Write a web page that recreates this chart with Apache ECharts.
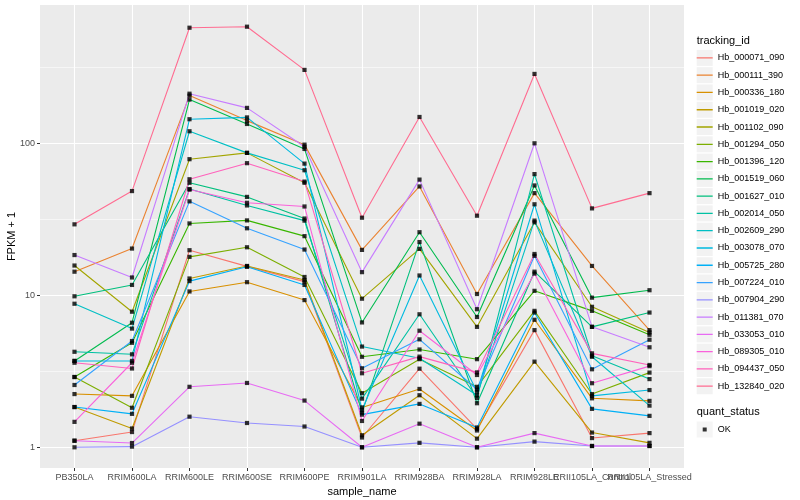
<!DOCTYPE html>
<html><head><meta charset="utf-8">
<script src="https://cdn.jsdelivr.net/npm/echarts@6/dist/echarts.min.js"></script>
<style>html,body{margin:0;padding:0;background:#fff}#c{width:800px;height:500px}</style>
</head><body><div id="c"></div>
<script>
// ---------------- data ----------------
const categories = ['PB350LA','RRIM600LA','RRIM600LE','RRIM600SE','RRIM600PE','RRIM901LA','RRIM928BA','RRIM928LA','RRIM928LE','RRII105LA_Control','RRII105LA_Stressed'];
const trackingIds = ['Hb_000071_090','Hb_000111_390','Hb_000336_180','Hb_001019_020','Hb_001102_090','Hb_001294_050','Hb_001396_120','Hb_001519_060','Hb_001627_010','Hb_002014_050','Hb_002609_290','Hb_003078_070','Hb_005725_280','Hb_007224_010','Hb_007904_290','Hb_011381_070','Hb_033053_010','Hb_089305_010','Hb_094437_050','Hb_132840_020'];
const lineColors = ['#F8766D','#EA8331','#D89000','#C09B00','#A3A500','#7CAE00','#39B600','#00BB4E','#00BF7D','#00C1A3','#00BFC4','#00BAE0','#00B0F6','#35A2FF','#9590FF','#C77CFF','#E76BF3','#FA62DB','#FF62BC','#FF6C91'];

const Hb_000071_090 = [1.105, 1.26, 19.8, 15.5, 12.3, 1.16, 3.29, 1.32, 5.9, 1.15, 1.24];
const Hb_000111_390 = [14.3, 20.3, 206, 141, 98, 19.9, 52, 10.2, 47, 15.6, 5.9];
const Hb_000336_180 = [2.24, 2.18, 10.6, 12.2, 9.3, 1.83, 2.42, 1.29, 6.9, 2.1, 2.02];
const Hb_001019_020 = [1.84, 1.33, 12.9, 15.6, 12.6, 1.2, 2.2, 1.14, 3.66, 1.25, 1.07];
const Hb_001102_090 = [15.7, 7.8, 78.6, 86.5, 55, 9.5, 20.2, 6.2, 30.2, 8.4, 5.7];
const Hb_001294_050 = [2.9, 1.82, 17.9, 20.7, 13.2, 2.27, 3.8, 2.5, 7.9, 2.24, 3.1];
const Hb_001396_120 = [2.9, 4.87, 29.7, 31.1, 24.5, 3.94, 4.4, 3.8, 10.7, 7.9, 5.5];
const Hb_001519_060 = [3.7, 6.6, 194, 134, 91.8, 6.63, 26, 7.2, 52.8, 9.65, 10.8];
const Hb_001627_010 = [9.85, 11.7, 55, 44.4, 32, 1.69, 22.4, 1.95, 14.3, 6.2, 7.7];
const Hb_002014_050 = [4.25, 4.09, 50, 39, 31, 2.09, 7.5, 2.11, 62.7, 4.0, 2.81];
const Hb_002609_290 = [8.8, 6.04, 120, 86.5, 66.5, 4.6, 3.85, 2.2, 31, 3.94, 1.88];
const Hb_003078_070 = [3.7, 3.7, 144, 148, 73.5, 1.76, 13.5, 2.32, 39.7, 2.18, 2.38];
const Hb_005725_280 = [1.84, 1.66, 12.4, 15.4, 11.7, 1.64, 1.93, 1.35, 7.7, 1.79, 1.61];
const Hb_007224_010 = [2.57, 5.0, 41.5, 27.6, 20, 3.31, 5.13, 2.4, 18.2, 3.26, 5.1];
const Hb_007904_290 = [1.0, 1.01, 1.59, 1.445, 1.37, 1.0, 1.07, 1.0, 1.09, 1.02, 1.02];
const Hb_011381_070 = [18.4, 13.1, 212, 171, 95, 14.2, 57.7, 8.1, 100, 6.2, 4.55];
const Hb_033053_010 = [1.105, 1.067, 2.5, 2.65, 2.03, 1.0, 1.43, 1.0, 1.24, 1.02, 1.02];
const Hb_089305_010 = [1.47, 3.6, 49.6, 40.6, 38.4, 1.49, 5.85, 2.99, 13.9, 2.64, 3.42];
const Hb_094437_050 = [3.6, 3.3, 58, 74, 56, 3.07, 3.95, 3.11, 18.7, 4.15, 3.48];
const Hb_132840_020 = [29.3, 48.5, 576, 585, 304, 32.4, 149, 33.4, 286, 37.3, 47];

const seriesValues = [Hb_000071_090, Hb_000111_390, Hb_000336_180, Hb_001019_020, Hb_001102_090, Hb_001294_050, Hb_001396_120, Hb_001519_060, Hb_001627_010, Hb_002014_050, Hb_002609_290, Hb_003078_070, Hb_005725_280, Hb_007224_010, Hb_007904_290, Hb_011381_070, Hb_033053_010, Hb_089305_010, Hb_094437_050, Hb_132840_020];

const yTickLabels = [1, 10, 100];
const yMinorBreaks = [3.1623, 31.623, 316.23];
const quantStatus = 'OK';

// ---------------- layout ----------------
const FONT = '"Liberation Sans", Arial, Helvetica, sans-serif';
const P = { left: 40, right: 684, top: 5, bottom: 468 };
const DECADE = 152;        // px per power of ten
const Y_ONE = 447.3;       // pixel row of value 1
const logMin = (Y_ONE - P.bottom) / DECADE;
const logMax = (Y_ONE - P.top) / DECADE;
const CAT_STEP = (P.right - P.left) / (categories.length - 1 + 1.2);
const catLeft = P.left + 0.6 * CAT_STEP;
const catWidth = CAT_STEP * (categories.length - 1);

const lineIcon = 'path://M0,0h0.01v0.01h-0.01z M0,7.35h16v1.3h-16z M15.99,15.99h0.01v0.01h-0.01z';
const okIcon = 'path://M0,0h0.01v0.01h-0.01z M6,6h4v4h-4z M15.99,15.99h0.01v0.01h-0.01z';

const chart = echarts.init(document.getElementById('c'), null, { renderer: 'canvas' });

const lineSeries = trackingIds.map((id, k) => ({
  name: id, type: 'line', xAxisIndex: 2, yAxisIndex: 2,
  data: seriesValues[k], symbol: 'none', showSymbol: false, silent: true,
  lineStyle: { color: lineColors[k], width: 1.1 }, itemStyle: { color: lineColors[k] }, z: 2
}));

const okPoints = [];
seriesValues.forEach(vals => vals.forEach((v, i) => okPoints.push([categories[i], v])));

const legendBase = {
  orient: 'vertical', left: 696.7, padding: 0, itemWidth: 16, itemHeight: 16, itemGap: 1.28,
  selectedMode: false, textStyle: { fontSize: 9, fontFamily: FONT }
};

const option = {
  animation: false,
  textStyle: { fontFamily: FONT },
  title: [
    { text: 'tracking_id', left: 696.7, top: 35, padding: 0, textStyle: { fontSize: 11, fontWeight: 'normal', color: '#000', fontFamily: FONT } },
    { text: 'quant_status', left: 696.7, top: 406.5, padding: 0, textStyle: { fontSize: 11, fontWeight: 'normal', color: '#000', fontFamily: FONT } }
  ],
  legend: [
    Object.assign({}, legendBase, { top: 49.9, data: trackingIds, icon: 'rect',
      itemStyle: { color: '#F2F2F2', borderWidth: 0 }, textStyle: { fontSize: 9, fontFamily: FONT, color: 'rgba(0,0,0,0)' } }),
    Object.assign({}, legendBase, { top: 49.9, icon: lineIcon,
      data: trackingIds.map((n, k) => ({ name: n, itemStyle: { color: lineColors[k], borderWidth: 0 } })),
      textStyle: { fontSize: 9, fontFamily: FONT, color: '#000' } }),
    Object.assign({}, legendBase, { top: 421.5, data: [quantStatus], icon: 'rect',
      itemStyle: { color: '#F2F2F2', borderWidth: 0 }, textStyle: { fontSize: 9, fontFamily: FONT, color: 'rgba(0,0,0,0)' } }),
    Object.assign({}, legendBase, { top: 421.5, icon: okIcon,
      data: [{ name: quantStatus, itemStyle: { color: '#000', borderWidth: 0 } }],
      textStyle: { fontSize: 9, fontFamily: FONT, color: '#000' } })
  ],
  grid: [
    { left: P.left, top: P.top, width: P.right - P.left, height: P.bottom - P.top, show: true,
      backgroundColor: '#EBEBEB', borderWidth: 0, containLabel: false, outerBoundsMode: 'none' },
    { left: P.left, top: Y_ONE - 3 * DECADE, width: P.right - P.left, height: 3 * DECADE,
      containLabel: false, outerBoundsMode: 'none' },
    { left: catLeft, top: P.top, width: catWidth, height: P.bottom - P.top,
      containLabel: false, outerBoundsMode: 'none' }
  ],
  xAxis: [
    { gridIndex: 0, type: 'value', min: 0, max: 1, show: false },
    { gridIndex: 1, type: 'value', min: 0, max: 1, show: false },
    { gridIndex: 2, type: 'category', data: categories, boundaryGap: false,
      axisLine: { show: false },
      axisTick: { show: true, length: 3, interval: 0, lineStyle: { color: '#333', width: 1 } },
      axisLabel: { interval: 0, hideOverlap: false, margin: 5, fontSize: 9, color: '#4D4D4D', fontFamily: FONT },
      splitLine: { show: true, interval: 0, lineStyle: { color: '#FFFFFF', width: 1.1 } },
      name: 'sample_name', nameLocation: 'middle', nameGap: 16,
      nameTextStyle: { fontSize: 11, color: '#000', fontFamily: FONT } }
  ],
  yAxis: [
    { gridIndex: 0, type: 'value', min: 0, max: 1,
      axisLine: { show: false }, axisTick: { show: false }, axisLabel: { show: false }, splitLine: { show: false },
      name: 'FPKM + 1', nameLocation: 'middle', nameGap: 23,
      nameTextStyle: { fontSize: 11, color: '#000', fontFamily: FONT } },
    { gridIndex: 1, type: 'log', logBase: 10, min: 1, max: 1000,
      axisLine: { show: false },
      axisTick: { show: true, length: 3, lineStyle: { color: '#333', width: 1 } },
      axisLabel: { margin: 5, fontSize: 9, color: '#4D4D4D', fontFamily: FONT,
        formatter: v => { const t = yTickLabels.find(t => Math.abs(t - v) / t < 1e-6); return t === undefined ? '' : String(t); } },
      splitLine: { show: true, lineStyle: { color: '#FFFFFF', width: 1.1 } } },
    { gridIndex: 2, type: 'log', logBase: 10, min: Math.pow(10, logMin), max: Math.pow(10, logMax), show: false }
  ],
  series: [
    { type: 'line', xAxisIndex: 1, yAxisIndex: 1, data: [[0, 1]], symbol: 'none', showSymbol: false,
      lineStyle: { opacity: 0 }, silent: true, z: 1,
      markLine: { silent: true, z: 1, animation: false, symbol: ['none', 'none'], label: { show: false },
        lineStyle: { color: '#FFFFFF', width: 0.55, type: 'solid' },
        emphasis: { disabled: true },
        data: yMinorBreaks.map(v => ({ yAxis: v })) } }
  ].concat(lineSeries).concat([
    { name: quantStatus, type: 'scatter', xAxisIndex: 2, yAxisIndex: 2, data: okPoints,
      symbol: 'rect', symbolSize: 4.2, itemStyle: { color: '#000' }, silent: true, z: 3 }
  ])
};
chart.setOption(option);
</script></body></html>
